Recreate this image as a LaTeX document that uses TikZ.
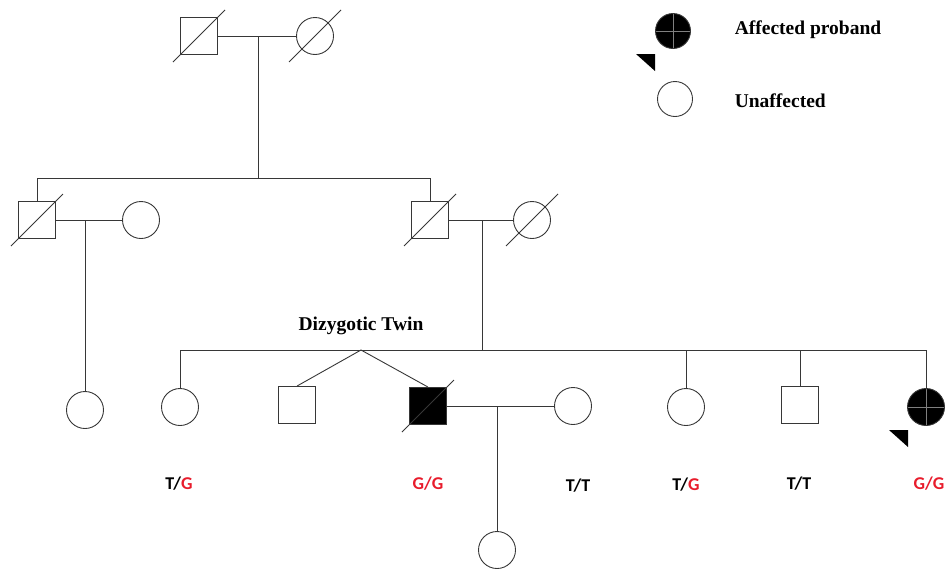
\documentclass[tikz,border=0pt]{standalone}
\usepackage{fontspec}
\setmainfont{Liberation Serif}
\newfontfamily\genofont{Carlito}
\usetikzlibrary{shapes,positioning}
\definecolor{allele}{RGB}{232,28,44}
\definecolor{pedline}{RGB}{55,55,55}
\tikzset{%
  male/.style={%
    rectangle,%
    draw=pedline,%
    minimum size=37pt,%
    inner sep=0pt},
  female/.style={%
    circle,%
    draw=pedline,%
    minimum size=37pt,%
    inner sep=0pt},
  affected/.style={fill=black},
  crossed/.style={%
    path picture={\draw[gray,line width=0.8pt]
      (path picture bounding box.north) -- (path picture bounding box.south)
      (path picture bounding box.west) -- (path picture bounding box.east);}},
  genotype/.style={font=\genofont\bfseries\fontsize{18}{20}\selectfont},
  legendtext/.style={font=\bfseries\fontsize{19.5}{22}\selectfont, anchor=west}
}
\newcommand{\deceased}[1]{\draw[pedline] ([shift={(-26,26)}]#1.center) -- ([shift={(26,-26)}]#1.center);}
\newcommand{\probandmark}[1]{\fill[black] ([shift={(-37,23)}]#1.center) -- ([shift={(-18,23)}]#1.center) -- ([shift={(-18,40)}]#1.center) -- cycle;}

\begin{document}
\begin{tikzpicture}[x=1pt,y=-1pt,line width=0.9pt,color=pedline]
\useasboundingbox (0,0) rectangle (952,576);

% generation I
\node[male] (g1m) at (199,36) {};
\node[female] (g1f) at (315,36) {};
\deceased{g1m}
\deceased{g1f}
\coordinate (g1c) at (258,36);
\coordinate (g2bar) at (258,178);
\draw (g1m) -- (g1f);
\draw (g1c) -- (g2bar);

% generation II
\node[male] (g2m1) at (37,220) {};
\node[female] (g2f1) at (141,220) {};
\node[male] (g2m2) at (430,220) {};
\node[female] (g2f2) at (532,220) {};
\deceased{g2m1}
\deceased{g2m2}
\deceased{g2f2}
\draw (g2m1.north) -- (g2m1 |- g2bar) -- (g2m2 |- g2bar) -- (g2m2.north);
\draw (g2m1) -- (g2f1);
\draw (g2m2) -- (g2f2);
\coordinate (c21) at (85,220);
\coordinate (c22) at (482,220);
\coordinate (g3bar) at (482,350);
\draw (c22) -- (g3bar);

% generation III
\node[female] (g3f1) at (85,410) {};
\draw (c21) -- (g3f1);
\node[female] (g3f2) at (180,407) {};
\node[male] (g3m1) at (297,405) {};
\node[male,affected] (g3m2) at (428,406) {};
\node[female] (g3w) at (573,406) {};
\node[female] (g3f3) at (686,407) {};
\node[male] (g3m3) at (800,405) {};
\node[female,affected,crossed] (g3p) at (926,407) {};
\deceased{g3m2}
\probandmark{g3p}
\coordinate (twin) at (361,350);
\draw (g3f2.north) -- (g3f2 |- g3bar) -- (g3p |- g3bar) -- (g3p.north);
\draw (g3f3.north) -- (g3f3 |- g3bar);
\draw (g3m3.north) -- (g3m3 |- g3bar);
\draw (g3m1.north) -- (twin) -- (g3m2.north);
\node[text=black,font=\bfseries\fontsize{19.5}{22}\selectfont] (twinlabel) at (361,326) {Dizygotic Twin};
\draw (g3m2) -- (g3w);

% generation IV
\coordinate (c3) at (497,406);
\node[female] (g4f) at (497,550) {};
\draw (c3) -- (g4f);

% genotypes
\node[genotype,text=black] (gt1) at (179,484) {T/\textcolor{allele}{G}};
\node[genotype,text=allele] (gt2) at (428,484) {G/G};
\node[genotype,text=black] (gt3) at (578,486) {T/T};
\node[genotype,text=black] (gt4) at (686,485) {T/\textcolor{allele}{G}};
\node[genotype,text=black] (gt5) at (799,484) {T/T};
\node[genotype,text=allele] (gt6) at (929,484) {G/G};

% legend
\node[female,affected,crossed,minimum size=35pt] (keyprob) at (673,31) {};
\probandmark{keyprob}
\node[female,minimum size=35pt] (keyunaff) at (675,99) {};
\node[legendtext,text=black] (keyprobtext) at (731,30) {Affected proband};
\node[legendtext,text=black] (keyunafftext) at (731,101) {Unaffected};
\end{tikzpicture}
\end{document}
